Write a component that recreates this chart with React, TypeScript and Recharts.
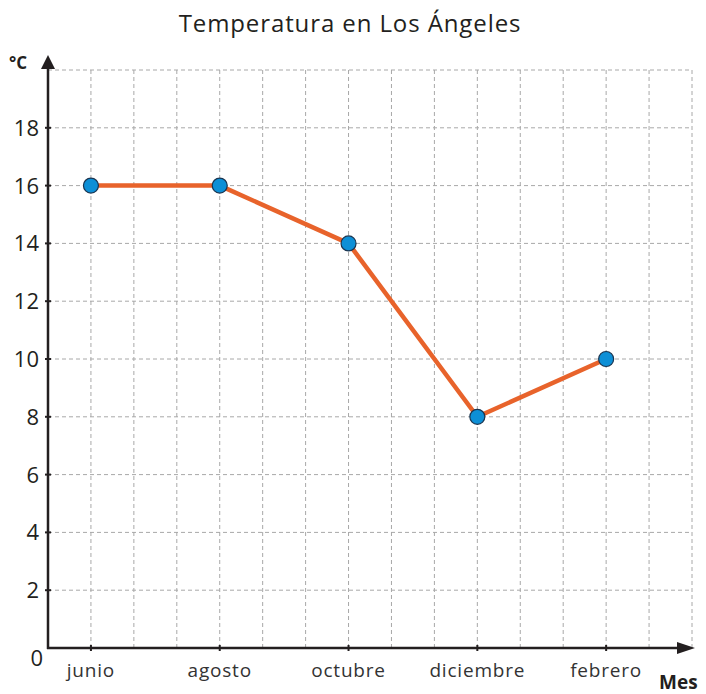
import React from 'react';
import { LineChart, Line, XAxis, YAxis, CartesianGrid } from 'recharts';

// page without the default body margin so chart coords == page coords
if (typeof document !== 'undefined') document.body.style.margin = '0';

const months = ['junio', 'agosto', 'octubre', 'diciembre', 'febrero'];
const monthPos = [1, 4, 7, 10, 13];
const temps = [16, 16, 14, 8, 10];
const xGrid = [0, 1, 2, 3, 4, 5, 6, 7, 8, 9, 10, 11, 12, 13, 14, 15];
const yTicks = [0, 2, 4, 6, 8, 10, 12, 14, 16, 18, 20];

const data = monthPos.map((p, i) => ({ pos: p, mes: months[i], temp: temps[i] }));

const W = 706;
const H = 694;
const M = { top: 70, right: 14, left: 8, bottom: 16 };
const Y_W = 40;
const X_H = 30;
const PL = M.left + Y_W; // 48
const PR = W - M.right; // 692
const PT = M.top; // 70
const PB = H - M.bottom - X_H; // 648

const FONT = '"Open Sans", "Noto Sans", sans-serif';
const INK = '#231f20';

const XTick = (props: any) => {
  const { x, payload } = props;
  const i = monthPos.indexOf(payload.value);
  if (i < 0) return null;
  return (
    <g>
      <line x1={x} x2={x} y1={PB - 3} y2={PB + 3} stroke={INK} strokeWidth={2} />
      <text x={x} y={PB + 29} textAnchor="middle" fontSize={19} letterSpacing={0.8} fill="#333" fontFamily={FONT}>
        {months[i]}
      </text>
    </g>
  );
};

const YTick = (props: any) => {
  const { y, payload } = props;
  const v = payload.value;
  if (v === 20) return null;
  if (v === 0) {
    return (
      <text x={43} y={PB + 18} textAnchor="end" fontSize={22} fill={INK} fontFamily={FONT}>
        0
      </text>
    );
  }
  return (
    <g>
      <line x1={PL - 3} x2={PL + 3} y1={y} y2={y} stroke={INK} strokeWidth={2} />
      <text x={39} y={y + 8} textAnchor="end" fontSize={22} fill={INK} fontFamily={FONT}>
        {v}
      </text>
    </g>
  );
};

const Decor = () => (
  <g>
    <text x={350} y={32} textAnchor="middle" fontSize={24} letterSpacing={0.9} fill={INK} fontFamily={FONT}>
      Temperatura en Los Ángeles
    </text>
    <line x1={PL} x2={PL} y1={PB + 1} y2={PT - 8} stroke={INK} strokeWidth={2.5} />
    <polygon points={`${PL - 7},${PT - 1} ${PL + 7},${PT - 1} ${PL},${PT - 15}`} fill={INK} />
    <line x1={PL - 1} x2={PR - 6} y1={PB} y2={PB} stroke={INK} strokeWidth={2.5} />
    <polygon points={`${PR - 15},${PB - 6} ${PR - 15},${PB + 6} ${PR + 3},${PB}`} fill={INK} />
    <text x={9} y={69} fontSize={17} fontWeight="bold" fill={INK} fontFamily={FONT}>
      °C
    </text>
    <text x={659} y={689} fontSize={19} fontWeight="bold" fill={INK} fontFamily={FONT}>
      Mes
    </text>
  </g>
);

export default function App() {
  return (
    <div style={{ width: W, height: H, background: '#fff' }}>
      <LineChart width={W} height={H} data={data} margin={M}>
        <CartesianGrid stroke="#a8a8a8" strokeDasharray="4 3" strokeWidth={1} />
        <XAxis
          dataKey="pos"
          type="number"
          domain={[0, 15]}
          ticks={xGrid}
          interval={0}
          height={X_H}
          axisLine={false}
          tickLine={false}
          tick={<XTick />}
        />
        <YAxis
          type="number"
          domain={[0, 20]}
          ticks={yTicks}
          interval={0}
          width={Y_W}
          axisLine={false}
          tickLine={false}
          tick={<YTick />}
        />
        <Decor />
        <Line
          dataKey="temp"
          stroke="#e8632b"
          strokeWidth={4.5}
          isAnimationActive={false}
          dot={{ r: 7.5, fill: '#0d8fd6', stroke: '#1b3550', strokeWidth: 1.2 }}
          activeDot={false}
        />
      </LineChart>
    </div>
  );
}
